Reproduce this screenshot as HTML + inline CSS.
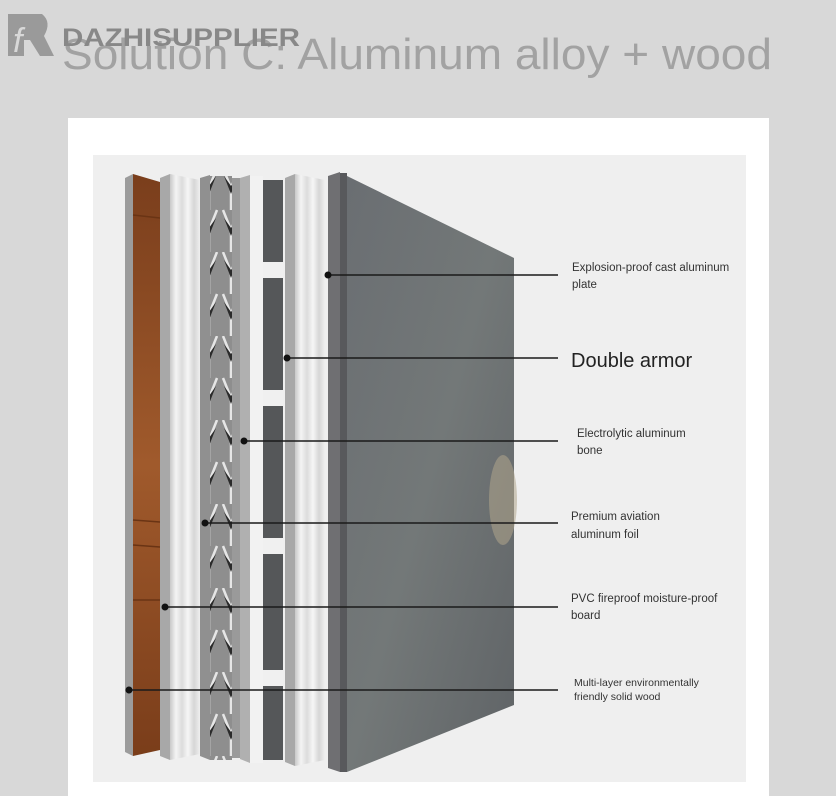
<!DOCTYPE html>
<html><head><meta charset="utf-8"><style>
html,body{margin:0;padding:0;width:836px;height:796px;overflow:hidden;background:#d8d8d8;}
svg{display:block}
text{font-family:"Liberation Sans","DejaVu Sans",sans-serif;}
</style></head><body>
<svg width="836" height="796" viewBox="0 0 836 796" xmlns="http://www.w3.org/2000/svg">
<defs>
<linearGradient id="wood" x1="0" x2="0" y1="0" y2="1">
<stop offset="0" stop-color="#7a3e1c"/><stop offset="0.5" stop-color="#a05a2c"/><stop offset="1" stop-color="#7a3d1a"/></linearGradient>
<linearGradient id="rib" x1="0" x2="1">
<stop offset="0" stop-color="#c8c8c8"/><stop offset="0.2" stop-color="#f4f4f4"/><stop offset="0.4" stop-color="#dcdcdc"/><stop offset="0.6" stop-color="#f6f6f6"/><stop offset="0.8" stop-color="#d6d6d6"/><stop offset="1" stop-color="#efefef"/></linearGradient>
<linearGradient id="stone" x1="0" x2="1" y1="0" y2="1">
<stop offset="0" stop-color="#6a6e72"/><stop offset="0.5" stop-color="#737878"/><stop offset="1" stop-color="#5f6366"/></linearGradient>
<pattern id="hex" width="22" height="84" patternUnits="userSpaceOnUse">
<rect width="22" height="84" fill="#8e8e8e"/>
<path d="M3 0 L11 20 L19 0 M11 20 L11 42 M3 42 L11 62 L19 42 M11 62 L11 84" stroke="#e6e6e6" stroke-width="2.5" fill="none"/>
<path d="M4 8 L11 26 L18 8 L11 18 Z M4 50 L11 68 L18 50 L11 60 Z" fill="#2a2a2a"/>
</pattern>
</defs>
<!-- header -->
<path d="M8 14 L42 14 Q52 22 44 36 L54 56 L40 56 L30 40 L24 40 L24 56 L8 56 Z" fill="#9a9a9a"/>
<text x="13" y="52" font-size="34" font-style="italic" fill="#d8d8d8" font-family="Liberation Serif,serif">f</text>
<text x="62" y="69" font-size="44" fill="#a2a2a2" textLength="710" lengthAdjust="spacingAndGlyphs">Solution C: Aluminum alloy + wood</text>
<text x="62" y="46" font-size="25" font-weight="bold" fill="#888" textLength="238" lengthAdjust="spacingAndGlyphs">DAZHISUPPLIER</text>
<!-- card -->
<rect x="68" y="118" width="701" height="678" fill="#ffffff"/>
<rect x="93" y="155" width="653" height="627" fill="#efefef"/>
<!-- wood -->
<polygon points="125,178 133,174 133,756 125,752" fill="#9c9c9c"/>
<polygon points="133,174 160,182 160,750 133,756" fill="url(#wood)"/>
<g stroke="#6a3414" stroke-width="1.5"><line x1="133" y1="215" x2="160" y2="218"/><line x1="133" y1="520" x2="160" y2="522"/><line x1="133" y1="545" x2="160" y2="547"/><line x1="133" y1="600" x2="160" y2="600"/></g>
<!-- PVC -->
<polygon points="160,178 170,174 170,760 160,756" fill="#a8a8a8"/>
<polygon points="170,174 200,180 200,754 170,760" fill="url(#rib)"/>
<!-- honeycomb -->
<polygon points="200,178 210,175 210,760 200,756" fill="#909090"/>
<rect x="210" y="176" width="22" height="584" fill="url(#hex)"/>
<rect x="232" y="178" width="8" height="580" fill="#9a9a9a"/>
<!-- aluminum bone -->
<polygon points="240,178 250,175 250,763 240,759" fill="#b0b0b0"/>
<rect x="250" y="176" width="13" height="587" fill="#f2f2f2"/>
<rect x="263" y="180" width="20" height="580" fill="#555759"/>
<g fill="#f0f0f0"><rect x="263" y="262" width="20" height="16"/><rect x="263" y="390" width="20" height="16"/><rect x="263" y="538" width="20" height="16"/><rect x="263" y="670" width="20" height="16"/></g>
<!-- ribbed -->
<polygon points="285,178 295,174 295,766 285,762" fill="#a8a8a8"/>
<polygon points="295,174 325,180 325,760 295,766" fill="url(#rib)"/>
<!-- big panel -->
<polygon points="328,176 340,172 340,772 328,768" fill="#6f6f72"/>
<rect x="340" y="173" width="7" height="599" fill="#58595c"/>
<polygon points="347,176 514,258 514,705 347,772" fill="url(#stone)"/>
<ellipse cx="503" cy="500" rx="14" ry="45" fill="#b0a68c" opacity="0.55"/>
<!-- leader lines -->
<g stroke="#1a1a1a" stroke-width="1.6">
<line x1="328" y1="275" x2="558" y2="275"/>
<line x1="287" y1="358" x2="558" y2="358"/>
<line x1="244" y1="441" x2="558" y2="441"/>
<line x1="205" y1="523" x2="558" y2="523"/>
<line x1="165" y1="607" x2="558" y2="607"/>
<line x1="129" y1="690" x2="558" y2="690"/>
</g>
<g fill="#111"><circle cx="328" cy="275" r="3.5"/><circle cx="287" cy="358" r="3.5"/><circle cx="244" cy="441" r="3.5"/><circle cx="205" cy="523" r="3.5"/><circle cx="165" cy="607" r="3.5"/><circle cx="129" cy="690" r="3.5"/></g>
<!-- labels -->
<g fill="#333" font-size="11.5">
<text x="572" y="271">Explosion-proof cast aluminum</text><text x="572" y="288">plate</text>
<text x="577" y="437">Electrolytic aluminum</text><text x="577" y="454">bone</text>
<text x="571" y="520">Premium aviation</text><text x="571" y="538">aluminum foil</text>
<text x="571" y="602">PVC fireproof moisture-proof</text><text x="571" y="619">board</text>
<text x="574" y="686" font-size="10.5">Multi-layer environmentally</text><text x="574" y="700" font-size="10.5">friendly solid wood</text>
</g>
<text x="571" y="367" font-size="20" fill="#222">Double armor</text>
</svg>
</body></html>
